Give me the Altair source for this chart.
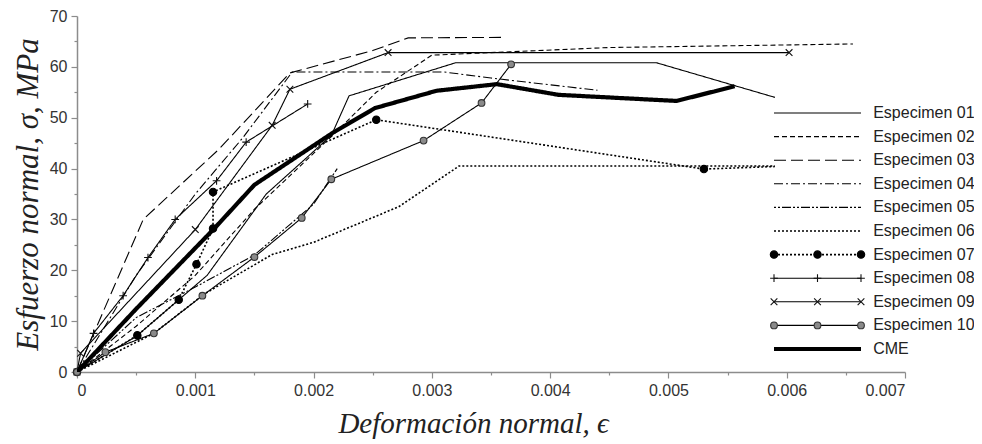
import altair as alt
import pandas as pd

names = ["Especimen 01", "Especimen 02", "Especimen 03", "Especimen 04", "Especimen 05",
         "Especimen 06", "Especimen 07", "Especimen 08", "Especimen 09", "Especimen 10", "CME"]

e01_x = [0, 0.0005, 0.0011, 0.0016, 0.00215, 0.0023, 0.0032, 0.0049, 0.0059]
e01_y = [0, 7, 19, 35, 46.5, 54.3, 60.8, 60.8, 54.0]

e02_x = [0, 0.0005, 0.001, 0.0015, 0.00216, 0.00253, 0.0030, 0.0045, 0.00656]
e02_y = [0, 9, 19, 32, 46.5, 55.0, 62.3, 63.8, 64.5]

e03_x = [0, 0.00056, 0.0012, 0.0018, 0.0025, 0.0028, 0.0036]
e03_y = [0, 30, 43.8, 58.8, 63.2, 65.7, 65.8]

e04_x = [0, 0.0005, 0.001, 0.0014, 0.00182, 0.0031, 0.0035, 0.0044]
e04_y = [0, 19, 35, 46, 59, 59, 57.8, 55.4]

e05_x = [0, 0.0005, 0.001, 0.0015, 0.0017, 0.002, 0.0022]
e05_y = [0, 10.7, 16.7, 23, 27, 33, 40]

e06_x = [0, 0.00065, 0.00108, 0.00165, 0.002, 0.00272, 0.00323, 0.0059]
e06_y = [0, 7.6, 15.4, 23.1, 25.5, 32.5, 40.5, 40.5]

e07_x = [0, 0.00051, 0.00086, 0.00101, 0.00115, 0.00115, 0.00253, 0.0053, 0.0059]
e07_y = [0, 7.2, 14.2, 21.2, 28.2, 35.4, 49.6, 39.9, 40.4]
e07_mark = [1, 1, 1, 1, 1, 1, 1, 1, 0]

e08_x = [0, 0.00014, 0.00039, 0.0006, 0.00083, 0.00118, 0.00143, 0.00195]
e08_y = [0, 7.6, 15, 22.5, 30, 37.6, 45.2, 52.7]

e09_x = [0, 0.00003, 0.001, 0.00165, 0.0018, 0.00263, 0.00602]
e09_y = [0, 3.7, 28, 48.5, 55.6, 62.8, 62.8]

e10_x = [0, 0.00024, 0.00065, 0.00106, 0.0015, 0.0019, 0.00215, 0.00293, 0.00342, 0.00367]
e10_y = [0, 3.9, 7.6, 15, 22.6, 30.3, 37.9, 45.5, 52.9, 60.5]

cme_x = [0, 0.0005, 0.00116, 0.0015, 0.00216, 0.00252, 0.00304, 0.00355, 0.00407, 0.0049, 0.00507, 0.00556]
cme_y = [0, 12.4, 28.2, 36.8, 47.0, 51.9, 55.3, 56.6, 54.5, 53.5, 53.3, 56.2]

series_x = [e01_x, e02_x, e03_x, e04_x, e05_x, e06_x, e07_x, e08_x, e09_x, e10_x, cme_x]
series_y = [e01_y, e02_y, e03_y, e04_y, e05_y, e06_y, e07_y, e08_y, e09_y, e10_y, cme_y]

PLUS = "M-1,0L1,0M0,-1L0,1"
CROSS = "M-1,-1L1,1M-1,1L1,-1"

styles = [
    dict(dash=[1, 0], width=1.1),
    dict(dash=[5, 3], width=1.1),
    dict(dash=[12, 5], width=1.1),
    dict(dash=[9, 3, 2, 3], width=1.1),
    dict(dash=[2, 2, 2, 2, 9, 2], width=1.1),
    dict(dash=[2, 2], width=1.6),
    dict(dash=[2, 2], width=1.6, marker="circle", msize=55, fill="#000", stroke="#000"),
    dict(dash=[1, 0], width=1.1, marker=PLUS, msize=60, fill=None, stroke="#111"),
    dict(dash=[1, 0], width=1.1, marker=CROSS, msize=45, fill=None, stroke="#111"),
    dict(dash=[1, 0], width=1.1, marker="circle", msize=45, fill="#8a8a8a", stroke="#333"),
    dict(dash=[1, 0], width=4.2),
]

W, H = 828, 356

xscale = alt.Scale(domain=[0, 0.007], nice=False, zero=True)
yscale = alt.Scale(domain=[0, 70], nice=False)

xaxis = alt.Axis(
    values=[round(i * 0.0005, 4) for i in range(15)],
    labelExpr="round(datum.value*2000) % 2 ? '' : (datum.value == 0 ? '0' : format(datum.value, '.3f'))",
    tickSize=alt.condition("round(datum.value*2000) % 2 == 1", alt.value(3), alt.value(6)),
    title="Deformación normal, ϵ",
    titleFontSize=29,
    titlePadding=11,
    titleX=396,
    titleAnchor="start",
    titleAlign="center",
    grid=False,
)
yaxis = alt.Axis(
    values=[i * 5 for i in range(15)],
    labelExpr="datum.value % 10 ? '' : datum.label",
    tickSize=alt.condition("datum.value % 10 != 0", alt.value(3), alt.value(6)),
    title="Esfuerzo normal, σ, MPa",
    titleFontSize=31,
    titlePadding=5,
    grid=False,
)

LX = alt.Scale(domain=[0, 1], range=[697, 784])
LY = alt.Scale(domain=[0, 10], range=[97, 333])

main_layers = []
legend_layers = []
for idx, (nm, xs, ys, st) in enumerate(zip(names, series_x, series_y, styles)):
    df = pd.DataFrame({"eps": xs, "sigma": ys, "i": list(range(len(xs)))})
    if nm == "Especimen 07":
        df["m"] = e07_mark
    else:
        df["m"] = 1
    enc = dict(
        x=alt.X("eps:Q", scale=xscale, axis=xaxis),
        y=alt.Y("sigma:Q", scale=yscale, axis=yaxis),
    )
    line = alt.Chart(df).mark_line(
        color="#000", strokeWidth=st["width"], strokeDash=st["dash"], clip=True
    ).encode(order=alt.Order("i:Q"), **enc)
    main_layers.append(line)

    ldf = pd.DataFrame({"lx": [0.0, 0.5, 1.0], "row": [idx] * 3})
    lenc = dict(
        x=alt.X("lx:Q", scale=LX, axis=None),
        y=alt.Y("row:Q", scale=LY, axis=None),
    )
    lline = alt.Chart(ldf).mark_line(
        color="#000", strokeWidth=st["width"], strokeDash=st["dash"]
    ).encode(**lenc)
    legend_layers.append(lline)

    if st.get("marker"):
        mk = dict(shape=st["marker"], size=st["msize"], stroke=st["stroke"], strokeWidth=1.1, opacity=1)
        if st["fill"]:
            mk.update(filled=True, fill=st["fill"])
        else:
            mk.update(filled=False)
        pts = alt.Chart(df).transform_filter("datum.m == 1").mark_point(**mk).encode(**enc)
        main_layers.append(pts)
        lpts = alt.Chart(ldf).mark_point(**mk).encode(**lenc)
        legend_layers.append(lpts)

tdf = pd.DataFrame({"lx": [1.14] * len(names), "row": list(range(len(names))), "name": names})
ltext = alt.Chart(tdf).mark_text(
    align="left", baseline="middle", font="Liberation Sans", fontSize=16, color="#222"
).encode(
    x=alt.X("lx:Q", scale=LX, axis=None),
    y=alt.Y("row:Q", scale=LY, axis=None),
    text="name:N",
)
legend_layers.append(ltext)

main = alt.layer(*main_layers)
legend = alt.layer(*legend_layers)

chart = alt.layer(main, legend).resolve_scale(x="independent", y="independent").properties(
    width=W, height=H,
    autosize=alt.AutoSizeParams(type="none"),
    padding={"left": 69, "top": 8, "right": 69, "bottom": 70},
).configure_view(stroke=None).configure_axis(
    domainColor="#8c8c8c", domainWidth=1.5, tickColor="#8c8c8c", tickWidth=1.2,
    labelFont="Liberation Sans", labelFontSize=16, labelColor="#333", labelPadding=4,
    titleFont="Liberation Serif", titleFontStyle="italic", titleFontWeight="normal",
    titleColor="#222",
)

chart.save("out.html", embed_options={"renderer": "svg", "actions": False})
